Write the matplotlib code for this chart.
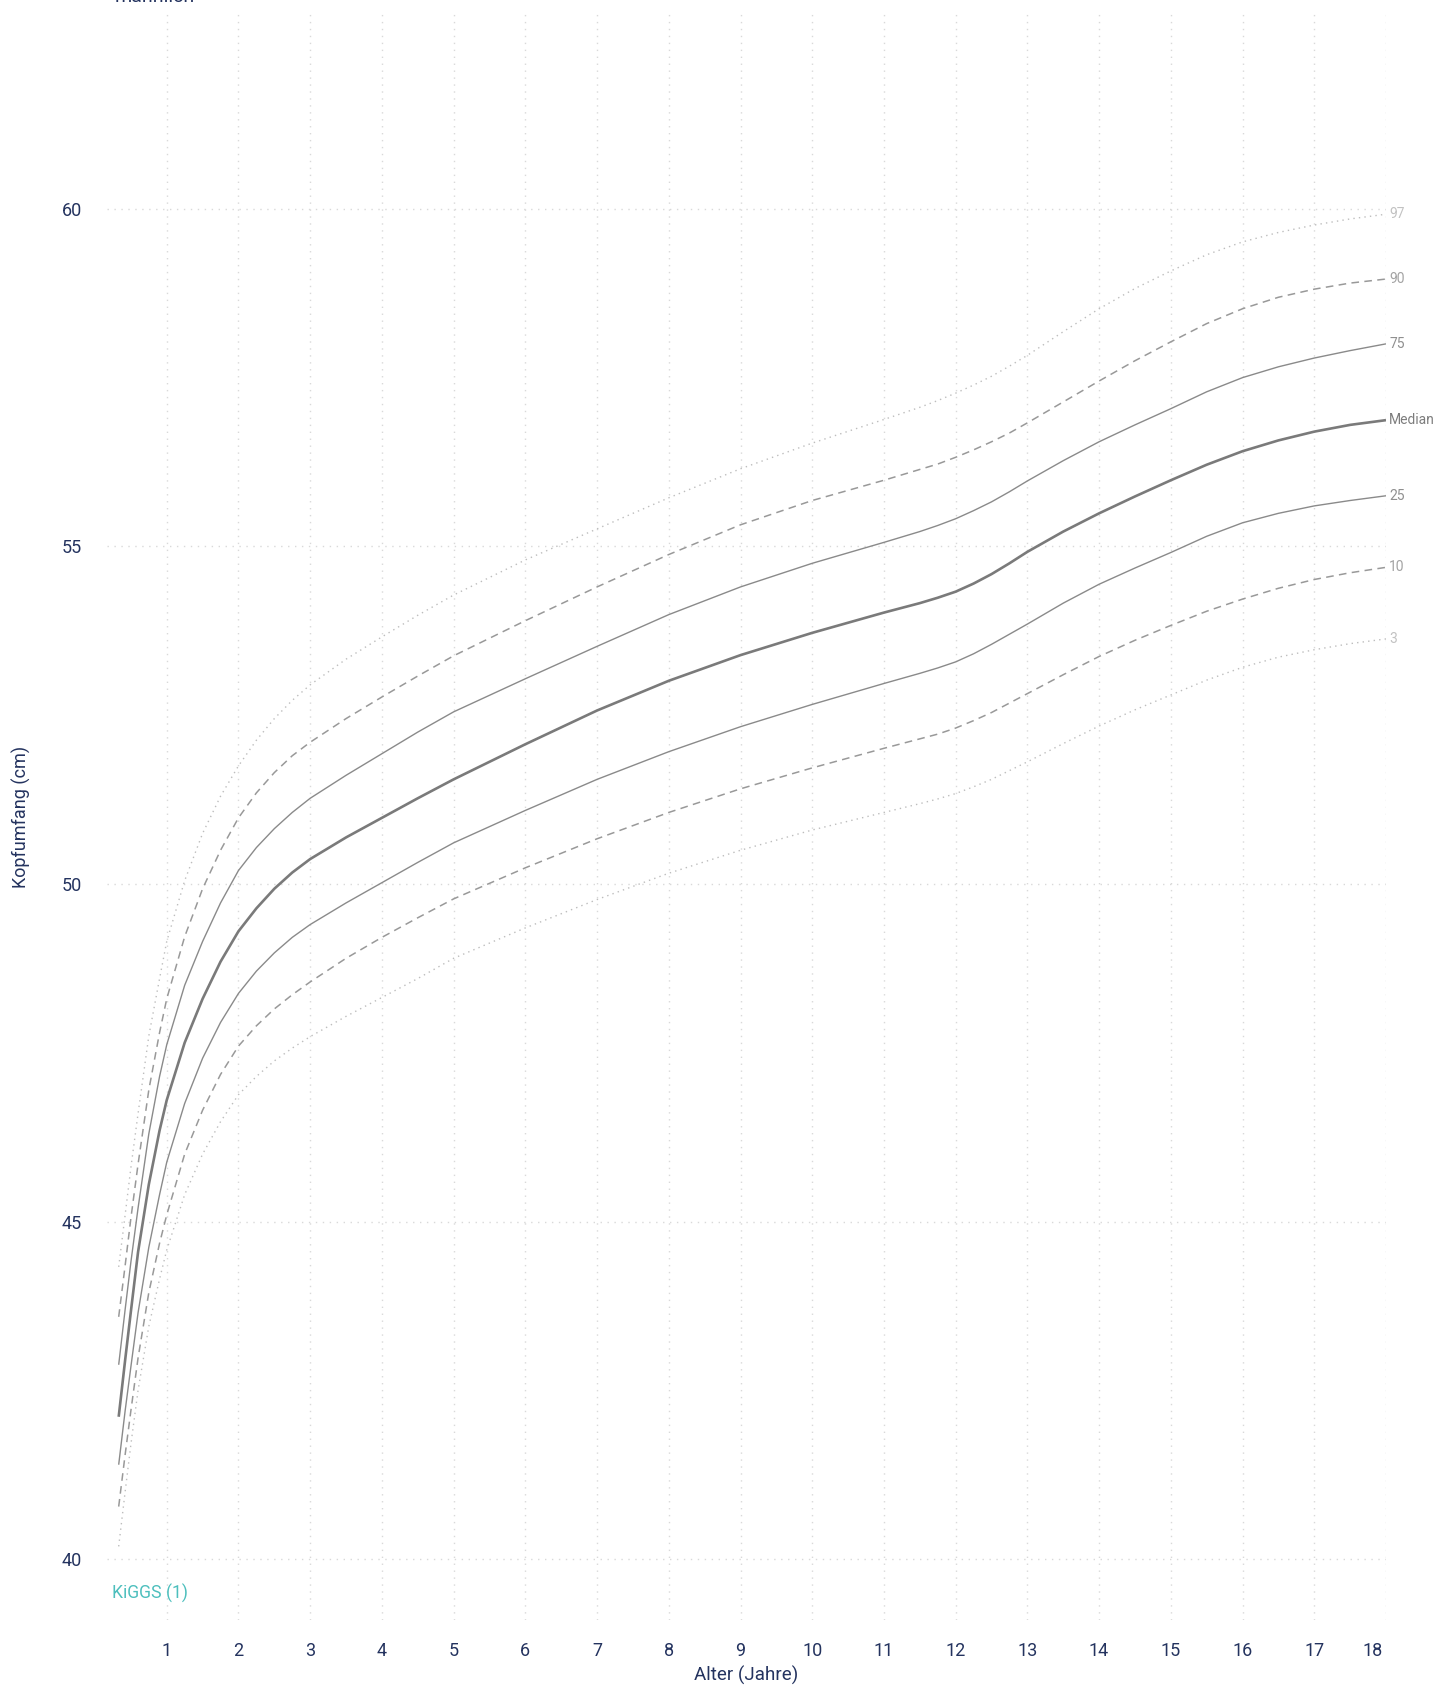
import matplotlib
matplotlib.use("Agg")
import matplotlib.pyplot as plt
from matplotlib.transforms import ScaledTranslation

plt.rcParams['font.family'] = ['Roboto', 'DejaVu Sans']

# ages in years (x axis)
ages = [0.33, 0.42, 0.5, 0.6, 0.75, 0.9, 1.0, 1.25, 1.5, 1.75,
        2.0, 2.25, 2.5, 2.75, 3.0, 3.5, 4.0, 4.5, 5,
        6, 7, 8, 9, 10, 11,
        11.5, 11.75, 12, 12.25, 12.5, 12.75, 13,
        13.5, 14, 14.5, 15, 15.5, 16, 16.5, 17, 17.5, 18]

# head circumference percentiles (cm), boys
p97 = [44.33, 45.1, 45.8, 46.6, 47.75, 48.6, 49.15, 50.05, 50.75, 51.3,
       51.75, 52.13, 52.45, 52.72, 52.95, 53.33, 53.66, 53.98, 54.28,
       54.8, 55.26, 55.72, 56.15, 56.53, 56.88,
       57.06, 57.16, 57.27, 57.39, 57.52, 57.67, 57.83,
       58.18, 58.52, 58.82, 59.08, 59.32, 59.51, 59.65, 59.76, 59.85, 59.92]
p90 = [43.59, 44.35, 45.05, 45.85, 46.95, 47.8, 48.3, 49.22, 49.93, 50.5,
       50.98, 51.35, 51.65, 51.9, 52.1, 52.45, 52.77, 53.08, 53.38,
       53.9, 54.4, 54.88, 55.32, 55.68, 55.98,
       56.14, 56.22, 56.32, 56.43, 56.55, 56.68, 56.83,
       57.14, 57.45, 57.75, 58.03, 58.3, 58.52, 58.69, 58.81, 58.9, 58.96]
p75 = [42.88, 43.7, 44.4, 45.2, 46.3, 47.15, 47.62, 48.5, 49.15, 49.72,
       50.2, 50.54, 50.82, 51.06, 51.27, 51.61, 51.93, 52.25, 52.55,
       53.04, 53.52, 53.99, 54.4, 54.75, 55.06,
       55.22, 55.31, 55.41, 55.53, 55.66, 55.81, 55.97,
       56.27, 56.55, 56.8, 57.04, 57.29, 57.5, 57.66, 57.79, 57.9, 58.0]
p50 = [42.11, 42.95, 43.67, 44.55, 45.55, 46.35, 46.8, 47.65, 48.3, 48.85,
       49.3, 49.64, 49.93, 50.17, 50.37, 50.69, 50.98, 51.27, 51.55,
       52.07, 52.57, 53.01, 53.39, 53.72, 54.02,
       54.16, 54.24, 54.33, 54.45, 54.59, 54.75, 54.92,
       55.22, 55.49, 55.74, 55.98, 56.21, 56.41, 56.57, 56.7, 56.8, 56.87]
p25 = [41.4, 42.2, 42.85, 43.65, 44.62, 45.4, 45.88, 46.75, 47.42, 47.95,
       48.38, 48.71, 48.98, 49.21, 49.4, 49.72, 50.02, 50.32, 50.61,
       51.09, 51.55, 51.96, 52.33, 52.66, 52.97,
       53.12, 53.2, 53.29, 53.41, 53.55, 53.7, 53.85,
       54.16, 54.44, 54.68, 54.91, 55.15, 55.35, 55.49, 55.6, 55.68, 55.75]
p10 = [40.78, 41.55, 42.2, 42.98, 43.95, 44.68, 45.1, 46.0, 46.65, 47.18,
       47.6, 47.9, 48.15, 48.36, 48.55, 48.9, 49.21, 49.5, 49.78,
       50.24, 50.67, 51.06, 51.41, 51.72, 52.01,
       52.15, 52.22, 52.31, 52.42, 52.54, 52.68, 52.82,
       53.1, 53.37, 53.61, 53.83, 54.04, 54.22, 54.38, 54.51, 54.61, 54.69]
p3 = [40.19, 41.0, 41.7, 42.5, 43.45, 44.15, 44.58, 45.4, 46.0, 46.48,
      46.88, 47.15, 47.38, 47.57, 47.74, 48.04, 48.32, 48.6, 48.9,
      49.35, 49.77, 50.16, 50.5, 50.8, 51.06,
      51.19, 51.26, 51.34, 51.44, 51.55, 51.68, 51.81,
      52.08, 52.34, 52.58, 52.8, 53.02, 53.21, 53.36, 53.47, 53.56, 53.63]

curve_labels = ['97', '90', '75', 'Median', '25', '10', '3']
x_ticks = list(range(1, 19))
y_ticks = [40, 45, 50, 55, 60]

navy = '#24335f'
grid_col = '#d9d9d9'

# (color, linewidth, linestyle, label color)
styles = {
    '97': ('#bdbdbd', 1.0, (0, (1, 3)), '#c2c2c2'),
    '90': ('#999999', 1.1, (0, (5, 3.5)), '#a3a3a3'),
    '75': ('#8a8a8a', 1.0, '-', '#8f8f8f'),
    'Median': ('#7a7a7a', 1.9, '-', '#7d7d7d'),
    '25': ('#8a8a8a', 1.0, '-', '#8f8f8f'),
    '10': ('#999999', 1.1, (0, (5, 3.5)), '#a3a3a3'),
    '3': ('#bdbdbd', 1.0, (0, (1, 3)), '#c2c2c2'),
}

fig = plt.figure(figsize=(14.37, 16.85), dpi=100)
ax = fig.add_axes([107 / 1437, 65 / 1685, 1279 / 1437, 1607 / 1685])
ax.set_xlim(0.167, 18)
ax.set_ylim(39.1, 62.9)

for s in ax.spines.values():
    s.set_visible(False)

# grid: vertical over full height, horizontal only at labelled values
for x in x_ticks:
    ax.axvline(x, color=grid_col, lw=1.0, ls=(0, (1, 4)), zorder=0)
for y in y_ticks:
    ax.axhline(y, color=grid_col, lw=1.0, ls=(0, (1, 4)), zorder=0)

series = [p97, p90, p75, p50, p25, p10, p3]
for name, vals in zip(curve_labels, series):
    col, lw, ls, lcol = styles[name]
    ax.plot(ages, vals, color=col, lw=lw, ls=ls, solid_capstyle='butt', solid_joinstyle='round', zorder=3)
    ax.text(ages[-1], vals[-1], name, color=lcol, fontsize=10,
            va='center', ha='left', clip_on=False,
            transform=ax.transData + ScaledTranslation(3 / 100, 0, fig.dpi_scale_trans))

ax.set_xticks(x_ticks)
ax.set_xticklabels([str(x) for x in x_ticks])
ax.set_yticks(y_ticks)
ax.set_yticklabels([str(y) for y in y_ticks])
ax.tick_params(axis='both', length=0, labelsize=13, labelcolor=navy)
ax.tick_params(axis='x', pad=16)
ax.tick_params(axis='y', pad=18)

# last x label sits a bit left of its grid line
last = ax.get_xticklabels()[-1]
last.set_transform(last.get_transform() + ScaledTranslation(-13 / 100, 0, fig.dpi_scale_trans))

ax.set_xlabel('Alter (Jahre)', fontsize=13.5, color=navy, labelpad=4)
fig.text(21.5 / 1437, 1 - 817 / 1685, 'Kopfumfang (cm)', rotation=90, fontsize=13,
         color=navy, ha='center', va='center')

ax.text(0.004, 39.5, 'KiGGS (1)', color='#4dbfbd', fontsize=12.7, va='center', ha='left',
        transform=ax.get_yaxis_transform(), clip_on=False)

fig.text(115 / 1437, 1 - 2 / 1685, 'männlich', fontsize=14, color=navy, ha='left', va='baseline')

fig.savefig('out.png', dpi=100)
